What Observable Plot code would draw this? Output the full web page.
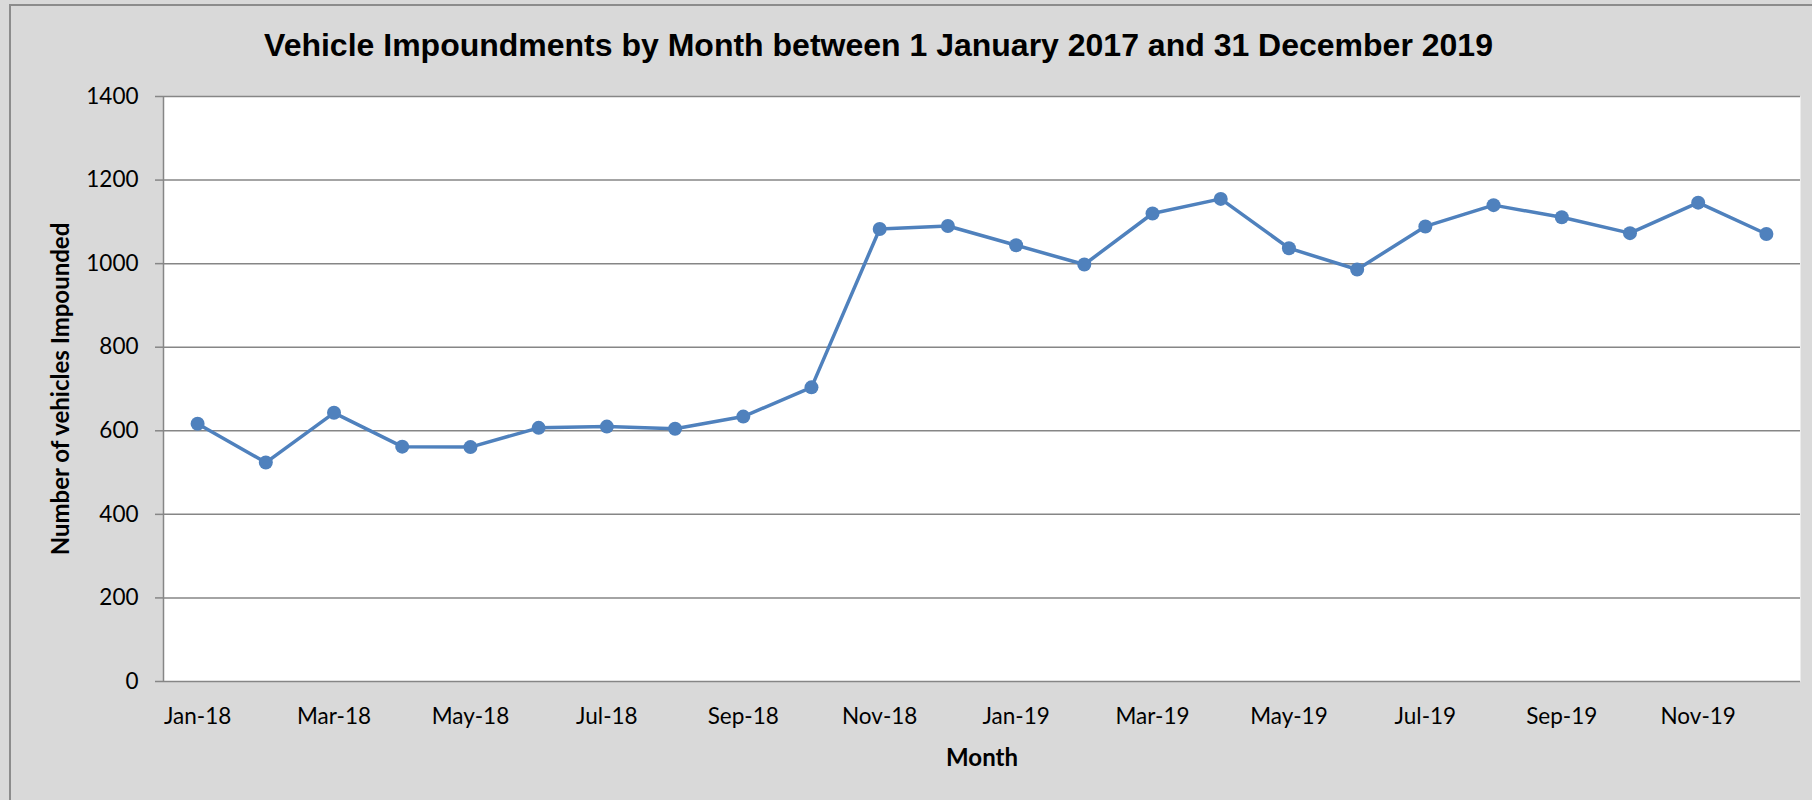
<!DOCTYPE html>
<html>
<head>
<meta charset="utf-8">
<script src="https://cdn.jsdelivr.net/npm/d3@7"></script>
<script src="https://cdn.jsdelivr.net/npm/@observablehq/plot@0.6"></script>
<style>
  html, body { margin: 0; padding: 0; width: 1812px; height: 800px; overflow: hidden; background: #d9d9d9; }
  #border { position: absolute; left: 9px; top: 4px; right: -20px; bottom: -20px;
            border-left: 2px solid #8c8c8c; border-top: 2px solid #8c8c8c; }
  #chart { position: absolute; left: 0; top: 0; }
  #title { position: absolute; left: 0; top: 29px; width: 1757px; text-align: center;
           font-family: "Liberation Sans", Arial, sans-serif; font-weight: bold; font-size: 32px;
           line-height: 32px; color: #000; white-space: nowrap; }
</style>
</head>
<body>
<div id="border"></div>
<div id="chart"></div>
<div id="title">Vehicle Impoundments by Month between 1 January 2017 and 31 December 2019</div>
<script>
const months = ["Jan-18","Feb-18","Mar-18","Apr-18","May-18","Jun-18","Jul-18","Aug-18","Sep-18","Oct-18","Nov-18","Dec-18",
                "Jan-19","Feb-19","Mar-19","Apr-19","May-19","Jun-19","Jul-19","Aug-19","Sep-19","Oct-19","Nov-19","Dec-19"];
const impounded = [617,524,643,562,561,607,610,605,634,704,1083,1090,
                   1044,998,1120,1155,1037,986,1089,1140,1111,1073,1146,1071];
const yTicks = [0,200,400,600,800,1000,1200,1400];
const xTickLabels = ["Jan-18","Mar-18","May-18","Jul-18","Sep-18","Nov-18","Jan-19","Mar-19","May-19","Jul-19","Sep-19","Nov-19"];
const yLabel = "Number of vehicles Impounded";
const xLabel = "Month";

const data = months.map((m, i) => ({i, month: m, value: impounded[i]}));
const xTickIdx = xTickLabels.map(l => months.indexOf(l));

const gridColor = "#868686";
const lineColor = "#4f81bd";

const chart = Plot.plot({
  width: 1812,
  height: 800,
  marginLeft: 163,
  marginRight: 12,
  marginTop: 96,
  marginBottom: 119,
  style: {background: "transparent", fontFamily: "Lato, sans-serif", fontSize: "22px", color: "#000"},
  x: {type: "linear", domain: [-0.5, months.length - 0.5]},
  y: {domain: [0, 1400]},
  marks: [
    Plot.frame({fill: "white", stroke: "none"}),
    Plot.ruleY(yTicks, {stroke: gridColor, strokeWidth: 1.5}),
    Plot.ruleX([-0.5], {stroke: gridColor, strokeWidth: 1.5}),
    Plot.axisY({ticks: yTicks, tickSize: 8, tickPadding: 17, stroke: gridColor, strokeWidth: 1.5,
                tickFormat: "d", label: null, fontSize: 22.5}),
    Plot.axisX({ticks: xTickIdx, tickSize: 0, tickPadding: 27, tickFormat: i => months[i],
                label: null, fontSize: 22.5}),
    Plot.line(data, {x: "i", y: "value", stroke: lineColor, strokeWidth: 3.5}),
    Plot.dot(data, {x: "i", y: "value", r: 7, fill: lineColor, stroke: "none"}),
    Plot.text([yLabel], {frameAnchor: "left", textAnchor: "middle", rotate: -90, dx: -102, lineAnchor: "middle",
                         fontWeight: "bold", fontSize: 24, fill: "#000"}),
    Plot.text([xLabel], {frameAnchor: "bottom", dy: 67, lineAnchor: "top",
                         fontWeight: "bold", fontSize: 24, fill: "#000"})
  ]
});
document.getElementById("chart").appendChild(chart);
</script>
</body>
</html>
